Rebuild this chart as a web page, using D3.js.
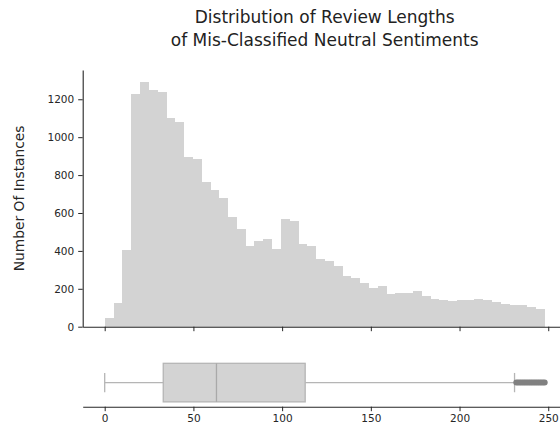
<!DOCTYPE html>
<html>
<head>
<meta charset="utf-8">
<script src="https://cdn.jsdelivr.net/npm/d3@7"></script>
<style>
  html, body { margin: 0; padding: 0; background: #fff; }
  svg { display: block; font-family: "DejaVu Sans", sans-serif; }
</style>
</head>
<body>
<svg id="chart" width="560" height="427"></svg>
<script>
// ---- data ----
const titleLines = ["Distribution of Review Lengths", "of Mis-Classified Neutral Sentiments"];
const yLabel = "Number Of Instances";
const binStart = 0;
const binEnd = 248;
const binCounts = [
  44, 127, 405, 1228, 1290, 1249, 1237, 1103, 1079, 894,
  885, 765, 721, 677, 580, 514, 428, 452, 461, 408,
  567, 559, 436, 427, 355, 347, 322, 266, 259, 231,
  206, 213, 170, 176, 176, 188, 162, 148, 142, 136,
  141, 141, 148, 141, 129, 121, 115, 115, 102, 93
];
const xTicks = [0, 50, 100, 150, 200, 250];
const yTicks = [0, 200, 400, 600, 800, 1000, 1200];
const boxStats = { whiskerLow: 0, q1: 33, median: 63, q3: 113, whiskerHigh: 231 };
const outliers = [232, 233, 234, 235, 236, 237, 238, 239, 240, 241, 242, 243, 244, 245, 246, 247, 248];

// ---- layout ----
const svg = d3.select("#chart");
const axisColor = "#262626";
const textColor = "#262626";
const barColor = "#d3d3d3";

const x = d3.scaleLinear().domain([-12.4, 260.4]).range([82.7, 566.7]);
const histTop = 70, histBottom = 326.7;
const y = d3.scaleLinear().domain([0, 1354.5]).range([histBottom, histTop]);

// box axes: y domain [-0.5, 0.5]
const boxTop = 358.5, boxBottom = 406.7;
const yb = d3.scaleLinear().domain([0.5, -0.5]).range([boxTop, boxBottom]);

// ---- title ----
const title = svg.append("text")
  .attr("x", (x.range()[0] + x.range()[1]) / 2)
  .attr("text-anchor", "middle")
  .attr("font-size", 17)
  .attr("fill", "#222");
titleLines.forEach((t, i) => {
  title.append("tspan")
    .attr("x", (x.range()[0] + x.range()[1]) / 2)
    .attr("y", 23.3 + i * 22.4)
    .text(t);
});

// ---- histogram bars ----
const binWidth = (binEnd - binStart) / binCounts.length;
svg.append("g").selectAll("rect")
  .data(binCounts)
  .join("rect")
  .attr("x", (d, i) => x(binStart + i * binWidth))
  .attr("width", (d, i) => x(binStart + (i + 1) * binWidth) - x(binStart + i * binWidth) + 0.3)
  .attr("y", d => y(d))
  .attr("height", d => y(0) - y(d))
  .attr("fill", barColor)
  .attr("shape-rendering", "crispEdges");

// ---- histogram axes ----
const gx = svg.append("g")
  .attr("transform", `translate(0,${histBottom})`)
  .call(d3.axisBottom(x).tickValues(xTicks).tickFormat("").tickSize(4.5).tickSizeOuter(0));
const gy = svg.append("g")
  .attr("transform", `translate(${x.range()[0]},0)`)
  .call(d3.axisLeft(y).tickValues(yTicks).tickFormat(d3.format("d")).tickSize(4.5).tickSizeOuter(0).tickPadding(4));

[gx, gy].forEach(g => {
  g.select(".domain").attr("stroke", axisColor).attr("stroke-width", 1.1);
  g.selectAll(".tick line").attr("stroke", axisColor).attr("stroke-width", 1);
  g.selectAll(".tick text").attr("fill", textColor).attr("font-size", 10.5)
    .attr("font-family", "DejaVu Sans, sans-serif");
});

// y label
svg.append("text")
  .attr("transform", `translate(24,${(histTop + histBottom) / 2}) rotate(-90)`)
  .attr("text-anchor", "middle")
  .attr("font-size", 13.8)
  .attr("fill", textColor)
  .text(yLabel);

// ---- boxplot ----
const lineGray = "#b5b5b5";
const bg = svg.append("g");
const cy = yb(0);
const halfBox = (yb(-0.4) - yb(0.4)) / 2;
const halfCap = (yb(-0.2) - yb(0.2)) / 2;

// whiskers
bg.append("line")
  .attr("x1", x(boxStats.whiskerLow)).attr("x2", x(boxStats.q1))
  .attr("y1", cy).attr("y2", cy)
  .attr("stroke", lineGray).attr("stroke-width", 1.3);
bg.append("line")
  .attr("x1", x(boxStats.q3)).attr("x2", x(boxStats.whiskerHigh))
  .attr("y1", cy).attr("y2", cy)
  .attr("stroke", lineGray).attr("stroke-width", 1.3);
// caps
[boxStats.whiskerLow, boxStats.whiskerHigh].forEach(v => {
  bg.append("line")
    .attr("x1", x(v)).attr("x2", x(v))
    .attr("y1", cy - halfCap).attr("y2", cy + halfCap)
    .attr("stroke", lineGray).attr("stroke-width", 1.3);
});
// box
bg.append("rect")
  .attr("x", x(boxStats.q1))
  .attr("y", cy - halfBox)
  .attr("width", x(boxStats.q3) - x(boxStats.q1))
  .attr("height", 2 * halfBox)
  .attr("fill", barColor)
  .attr("stroke", lineGray)
  .attr("stroke-width", 1.3);
// median
bg.append("line")
  .attr("x1", x(boxStats.median)).attr("x2", x(boxStats.median))
  .attr("y1", cy - halfBox).attr("y2", cy + halfBox)
  .attr("stroke", "#a9a9a9").attr("stroke-width", 1.3);
// outliers (dense markers forming a band)
bg.selectAll("circle.out")
  .data(outliers)
  .join("circle")
  .attr("class", "out")
  .attr("cx", d => x(d))
  .attr("cy", cy)
  .attr("r", 3)
  .attr("fill", "#808080");

// box x axis
const gbx = svg.append("g")
  .attr("transform", `translate(0,${boxBottom})`)
  .call(d3.axisBottom(x).tickValues(xTicks).tickSize(4.5).tickSizeOuter(0).tickPadding(3.5));
gbx.select(".domain").attr("stroke", axisColor).attr("stroke-width", 1.1);
gbx.selectAll(".tick line").attr("stroke", axisColor).attr("stroke-width", 1);
gbx.selectAll(".tick text").attr("fill", textColor).attr("font-size", 10.5)
  .attr("font-family", "DejaVu Sans, sans-serif");
</script>
</body>
</html>
